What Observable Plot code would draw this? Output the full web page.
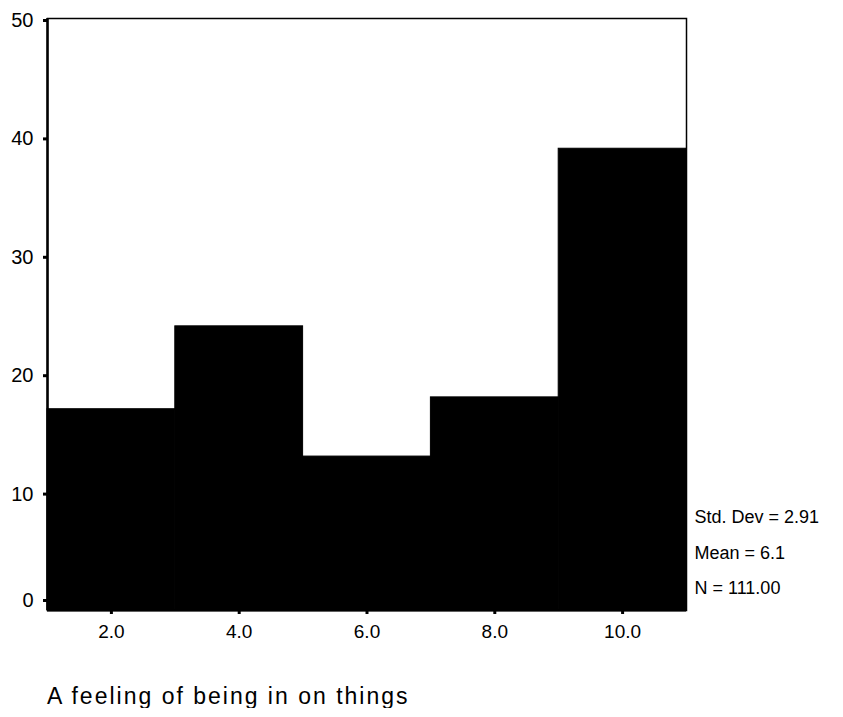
<!DOCTYPE html>
<html>
<head>
<meta charset="utf-8">
<script src="https://cdn.jsdelivr.net/npm/d3@7"></script>
<script src="https://cdn.jsdelivr.net/npm/@observablehq/plot@0.6"></script>
<style>
  body { margin: 0; background: #fff; font-family: "Liberation Sans", Arial, sans-serif; }
  #title { font-size: 23px; letter-spacing: 2px; padding-left: 47px; margin-top: 35px; color: #000; line-height: 1; }
  #chart [aria-label="y-axis tick label"], #chart [aria-label="y-axis tick label"] text { font-size: 20px !important; }
  #chart [aria-label="x-axis tick label"], #chart [aria-label="x-axis tick label"] text { font-size: 19px !important; }
</style>
</head>
<body>
<div id="chart"></div>
<div id="title">A feeling of being in on things</div>
<script>
const binStart = [1, 3, 5, 7, 9];
const binEnd = [3, 5, 7, 9, 11];
const counts = [17, 24, 13, 18, 39];
const xTicks = [2, 4, 6, 8, 10];
const yTicks = [0, 10, 20, 30, 40, 50];
const statsLines = ["Std. Dev = 2.91", "Mean = 6.1", "N = 111.00"];

const bins = binStart.map((s, i) => ({x1: s, x2: binEnd[i], count: counts[i]}));
const statsDy = [-93, -57, -22];

const chart = Plot.plot({
  width: 843,
  height: 650,
  marginTop: 18,
  marginBottom: 40,
  marginLeft: 47,
  marginRight: 157,
  style: {fontFamily: "Liberation Sans, Arial, sans-serif", fontSize: "18px", color: "#000", background: "#fff"},
  x: {domain: [1, 11], ticks: xTicks, tickFormat: d => d.toFixed(1), label: null},
  y: {domain: [0, 50], ticks: yTicks, label: null},
  marks: [
    Plot.rectY(bins, {x1: "x1", x2: "x2", y: "count", fill: "#000", stroke: "#000", strokeWidth: 1}),
    Plot.frame({stroke: "#000", strokeWidth: 1.5}),
    Plot.axisY(yTicks.slice(1), {tickSize: 4, tickPadding: 10, strokeWidth: 3, dy: 2}),
    Plot.axisY([yTicks[0]], {tickSize: 4, tickPadding: 10, strokeWidth: 3, dy: -10}),
    Plot.axisX({ticks: xTicks, tickSize: 4, tickPadding: 10, strokeWidth: 3, tickFormat: d => d.toFixed(1)}),
    Plot.ruleY([0], {strokeWidth: 2}),
    Plot.ruleX([1], {strokeWidth: 2.5}),
    ...statsLines.map((s, i) => Plot.text([s], {
      frameAnchor: "bottom-right", dx: 8, dy: statsDy[i], textAnchor: "start", lineAnchor: "middle",
      fontSize: 18, fill: "#000"
    }))
  ]
});
document.getElementById("chart").appendChild(chart);
</script>
</body>
</html>
